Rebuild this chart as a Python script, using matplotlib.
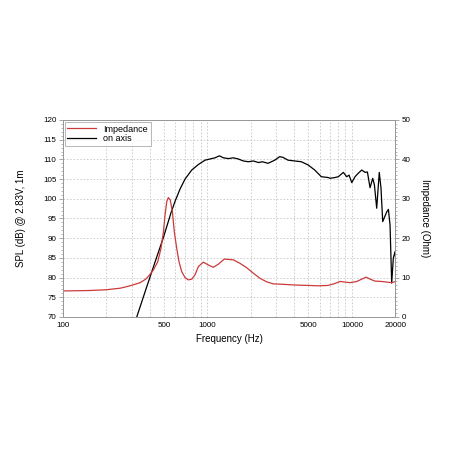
import numpy as np
import matplotlib.pyplot as plt
from matplotlib.ticker import FixedLocator, NullFormatter, MultipleLocator

plt.rcParams['font.family'] = ['Liberation Sans', 'DejaVu Sans']

# on axis SPL (dB)
spl_freq = [325, 375, 402, 440, 497, 560, 600, 648, 701, 780, 867, 963, 1072,
            1130, 1211, 1291, 1397, 1513, 1637, 1773, 1922, 2080, 2253, 2400,
            2630, 2924, 3165, 3340, 3616, 4024, 4468, 4971, 5528, 6140, 6833,
            7060, 7640, 8050, 8720, 9200, 9550, 9970, 10500, 11070, 11690,
            12330, 12790, 13340, 13920, 14300, 14830, 15450, 15880, 16320,
            16750, 17410, 17870, 18340, 18830, 19320, 19860, 20000]
spl_db = [70.0, 76.9, 80.2, 84.5, 90.2, 96.4, 99.5, 102.5, 105.0, 107.3,
          108.7, 109.8, 110.2, 110.4, 110.9, 110.4, 110.2, 110.4, 110.1, 109.6,
          109.4, 109.6, 109.2, 109.4, 109.0, 109.8, 110.7, 110.5, 109.8, 109.6,
          109.4, 108.6, 107.3, 105.6, 105.4, 105.2, 105.4, 105.6, 106.7, 105.6,
          106.0, 104.1, 105.6, 106.5, 107.3, 106.7, 106.8, 102.8, 105.2, 103.5,
          97.6, 106.7, 102.7, 94.2, 95.2, 96.7, 97.3, 93.3, 78.6, 84.9, 86.6,
          85.3]

# impedance (Ohm)
imp_freq = [100, 150, 200, 250, 292, 343, 375, 395, 423, 454, 478, 497, 510,
            524, 537, 554, 573, 591, 614, 637, 665, 701, 739, 780, 822, 867,
            938, 1016, 1101, 1192, 1311, 1397, 1513, 1683, 1871, 2080, 2313,
            2576, 2860, 3270, 4040, 5000, 5830, 6833, 7500, 8280, 9710, 10800,
            11690, 12530, 13340, 14450, 16070, 17870, 18830, 20000]
imp_ohm = [6.6, 6.7, 6.9, 7.3, 7.9, 8.7, 9.6, 10.5, 11.9, 14.0, 17.4, 21.6,
           25.9, 29.3, 30.3, 29.7, 26.7, 21.6, 17.4, 14.0, 11.5, 10.0, 9.4,
           9.6, 10.7, 12.8, 13.9, 13.2, 12.6, 13.4, 14.7, 14.6, 14.5, 13.6,
           12.5, 11.1, 9.8, 8.9, 8.4, 8.3, 8.1, 8.0, 7.9, 8.0, 8.4, 9.0, 8.7,
           9.0, 9.6, 10.1, 9.6, 9.1, 9.0, 8.8, 8.7, 9.0]

red = '#cc3a3a'
grey = '#999999'

fig = plt.figure(figsize=(4.58, 4.58), dpi=100)
ax = fig.add_axes([0.137, 0.308, 0.7265, 0.43])
ax2 = ax.twinx()

ax2.plot(imp_freq, imp_ohm, color=red, lw=0.9, label='Impedance')
ax.plot(spl_freq, spl_db, color='black', lw=0.9, label='on axis')

ax.set_xscale('log')
ax.set_xlim(100, 20000)
ax.set_ylim(70, 120)
ax2.set_ylim(0, 50)

ax.xaxis.set_major_locator(FixedLocator([100, 500, 1000, 5000, 10000, 20000]))
ax.xaxis.set_major_formatter(plt.FixedFormatter(['100', '500', '1000', '5000', '10000', '20000']))
minor = [f * d for d in (100, 1000, 10000) for f in range(1, 10) if f * d <= 20000]
ax.xaxis.set_minor_locator(FixedLocator(minor))
ax.xaxis.set_minor_formatter(NullFormatter())
ax.yaxis.set_major_locator(MultipleLocator(5))
ax.yaxis.set_minor_locator(MultipleLocator(1))
ax2.yaxis.set_major_locator(MultipleLocator(10))
ax2.yaxis.set_minor_locator(MultipleLocator(1))

ax.grid(True, which='both', axis='x', color='#c8c8c8', ls=(0, (2, 2)), lw=0.6)
ax.grid(True, which='major', axis='y', color='#c8c8c8', ls=(0, (2, 2)), lw=0.6)

for a in (ax, ax2):
    for s in a.spines.values():
        s.set_color(grey)
        s.set_linewidth(0.7)
    a.tick_params(which='major', length=3, width=0.6, color=grey, labelsize=5.8, pad=1.5)
    a.tick_params(which='minor', length=1.5, width=0.5, color=grey)
ax.tick_params(axis='x', which='both', length=0, pad=4)

ax.set_xlabel('Frequency (Hz)', fontsize=7, labelpad=3)
ax.set_ylabel('SPL (dB) @ 2.83V, 1m', fontsize=7, labelpad=12)
ax2.set_ylabel('Impedance (Ohm)', fontsize=7, rotation=270, labelpad=14)

h1, l1 = ax2.get_legend_handles_labels()
h2, l2 = ax.get_legend_handles_labels()
leg = ax2.legend(h1 + h2, l1 + l2, loc='upper left', fontsize=6.5, frameon=True,
                 fancybox=False, borderaxespad=0.2, handlelength=3.2,
                 borderpad=0.3, labelspacing=0.1)
leg.get_frame().set_edgecolor(grey)
leg.get_frame().set_linewidth(0.6)

fig.savefig('out.png', dpi=100)
